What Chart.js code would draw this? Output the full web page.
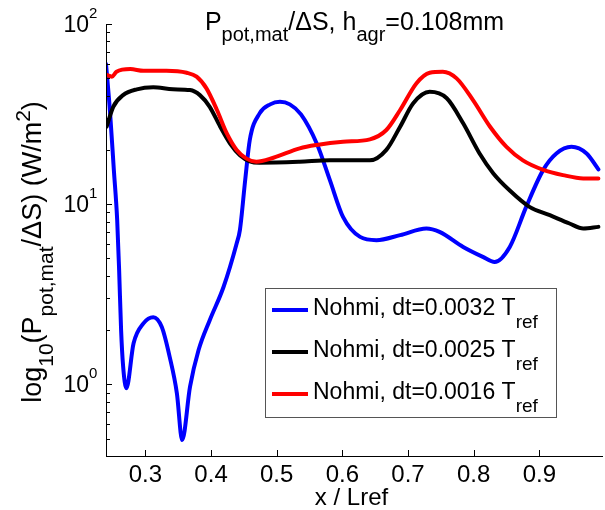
<!DOCTYPE html>
<html>
<head>
<meta charset="utf-8">
<script src="https://cdn.jsdelivr.net/npm/chart.js@4/dist/chart.umd.min.js"></script>
<style>
html,body{margin:0;padding:0;background:#ffffff;}
#wrap{width:605px;height:510px;position:relative;}
</style>
</head>
<body>
<div id="wrap"><canvas id="c" width="605" height="510"></canvas></div>
<script>
// ---- data ----
const blueX  = [0.240,0.246,0.252,0.257,0.260,0.263,0.266,0.271,0.282,0.297,0.312,0.325,0.337,0.348,0.356,0.368,0.381,0.398,0.419,0.439,0.444,0.452,0.459,0.474,0.490,0.505,0.520,0.537,0.561,0.581,0.601,0.627,0.652,0.688,0.728,0.748,0.784,0.814,0.832,0.855,0.880,0.906,0.926,0.949,0.972,0.990];
const blueY  = [60,33,15.4,8.2,4.3,2.0,1.27,0.95,1.69,2.18,2.36,2.08,1.42,0.89,0.49,0.97,1.55,2.27,3.47,6.05,7.2,13.6,22.7,31.9,35.8,37.0,35.8,31.5,21.7,13.6,8.5,6.58,6.31,6.73,7.33,7.02,5.79,5.1,4.78,5.79,9.66,15.5,19.1,20.8,19.1,15.6];

const blackX = [0.241,0.251,0.266,0.287,0.312,0.342,0.368,0.383,0.398,0.414,0.429,0.444,0.459,0.474,0.535,0.581,0.642,0.667,0.688,0.708,0.733,0.759,0.784,0.809,0.830,0.855,0.885,0.916,0.946,0.967,0.990];
const blackY = [26.9,34.7,40.3,43.4,44.5,43.4,43.0,40.3,34.7,26.9,21.7,18.7,17.3,17.0,17.2,17.5,17.5,20.0,26.9,36.3,42.0,38.7,28.1,19.1,14.8,11.9,9.66,8.69,7.81,7.33,7.48];

const redX   = [0.241,0.249,0.256,0.277,0.297,0.332,0.363,0.378,0.393,0.409,0.424,0.439,0.454,0.469,0.495,0.535,0.561,0.601,0.642,0.667,0.688,0.713,0.733,0.753,0.774,0.799,0.825,0.850,0.875,0.906,0.936,0.967,0.990];
const redY   = [52.1,51.0,54.3,56.2,55.0,55.0,53.6,51.0,43.9,33.3,24.7,20.0,17.9,17.2,18.1,20.4,21.3,22.2,22.9,25.8,33.3,46.9,53.6,54.3,49.9,37.8,26.9,20.8,17.5,15.5,14.5,13.9,13.9];

const seriesNames = ['Nohmi, dt=0.0032 T', 'Nohmi, dt=0.0025 T', 'Nohmi, dt=0.0016 T'];
const seriesSub   = 'ref';
const seriesColors = ['#0000ff', '#000000', '#ff0000'];

const xTicks = [0.3,0.4,0.5,0.6,0.7,0.8,0.9];
const xTickLabels = ['0.3','0.4','0.5','0.6','0.7','0.8','0.9'];
const yTicks = [1,10,100];
const yTickExp = ['0','1','2'];
const xRange = [0.24, 0.997];
const yRange = [0.4, 100];

// ---- text helpers ----
const FONT = '"Liberation Sans", Arial, Helvetica, sans-serif';
function fnt(sz){ return sz + 'px ' + FONT; }
function richWidth(ctx, segs, main, small){
  let w = 0;
  for (const s of segs){ ctx.font = fnt(s[1] ? small : main); w += ctx.measureText(s[0]).width; }
  return w;
}
function drawRich(ctx, segs, x, y, align, main, small, subDy, supDy){
  const w = richWidth(ctx, segs, main, small);
  let cx = align === 'center' ? x - w/2 : (align === 'right' ? x - w : x);
  ctx.textAlign = 'left';
  ctx.textBaseline = 'alphabetic';
  for (const s of segs){
    ctx.font = fnt(s[1] ? small : main);
    const dy = s[1] === -1 ? subDy : (s[1] === 1 ? supDy : 0);
    ctx.fillText(s[0], cx, y + dy);
    cx += ctx.measureText(s[0]).width;
  }
}
function seg(t, m){ return [t, m || 0]; }

const toPts = (xs, ys) => xs.map((v, i) => ({x: v, y: ys[i]}));

const matlabPlugin = {
  id: 'matlabDecor',
  afterDatasetsDraw(chart){
    const ctx = chart.ctx, a = chart.chartArea, xs = chart.scales.x, ys = chart.scales.y;
    ctx.save();
    ctx.strokeStyle = '#000'; ctx.lineWidth = 1; ctx.fillStyle = '#000';
    // axis lines
    ctx.beginPath();
    ctx.moveTo(a.left + 0.5, a.top);
    ctx.lineTo(a.left + 0.5, a.bottom + 0.5);
    ctx.lineTo(a.right, a.bottom + 0.5);
    ctx.stroke();
    // x ticks (inward)
    ctx.beginPath();
    xTicks.forEach(v => {
      const px = Math.round(xs.getPixelForValue(v)) + 0.5;
      ctx.moveTo(px, a.bottom); ctx.lineTo(px, a.bottom - 6);
    });
    // y major ticks
    yTicks.forEach(v => {
      const py = Math.round(ys.getPixelForValue(v)) + 0.5;
      ctx.moveTo(a.left, py); ctx.lineTo(a.left + 6, py);
    });
    // y minor ticks
    for (let d = -1; d <= 1; d++){
      for (let k = 2; k <= 9; k++){
        const v = k * Math.pow(10, d);
        if (v < yRange[0] || v > yRange[1]) continue;
        const py = Math.round(ys.getPixelForValue(v)) + 0.5;
        ctx.moveTo(a.left, py); ctx.lineTo(a.left + 4, py);
      }
    }
    ctx.stroke();

    // x tick labels
    ctx.font = fnt(24); ctx.textAlign = 'center'; ctx.textBaseline = 'alphabetic';
    xTicks.forEach((v, i) => {
      ctx.fillText(xTickLabels[i], xs.getPixelForValue(v), a.bottom + 26);
    });
    // y tick labels 10^k
    yTicks.forEach((v, i) => {
      const py = ys.getPixelForValue(v);
      ctx.font = fnt(23); ctx.textAlign = 'right';
      ctx.fillText('10', a.left - 17, py + 8);
      ctx.font = fnt(15); ctx.textAlign = 'left';
      ctx.fillText(yTickExp[i], a.left - 17, py - 6);
    });

    // x label
    ctx.font = fnt(24); ctx.textAlign = 'center';
    ctx.fillText('x / Lref', (a.left + a.right) / 2 - 3, a.bottom + 49);

    // title
    drawRich(ctx, [seg('P'), seg('pot,mat', -1), seg('/\u0394S, h'), seg('agr', -1), seg('=0.108mm')],
             (a.left + a.right) / 2, 30, 'center', 25, 20, 11, -10);

    // y label (rotated)
    ctx.save();
    ctx.translate(41, 252);
    ctx.rotate(-Math.PI / 2);
    drawRich(ctx, [seg('log'), seg('10', -1), seg('(P'), seg('pot,mat', -1), seg('/\u0394S) (W/m'), seg('2', 1), seg(')')],
             0, 0, 'center', 27, 21, 12, -11);
    ctx.restore();

    // legend
    const lx = 265, ly = 288, lw = 291, lh = 129;
    ctx.fillStyle = '#fff';
    ctx.fillRect(lx, ly, lw, lh);
    ctx.strokeStyle = '#555'; ctx.lineWidth = 1;
    ctx.strokeRect(lx + 0.5, ly + 0.5, lw, lh);
    seriesNames.forEach((name, i) => {
      const ry = ly + 22 + i * 42;
      ctx.strokeStyle = seriesColors[i]; ctx.lineWidth = 4;
      ctx.beginPath(); ctx.moveTo(lx + 7, ry); ctx.lineTo(lx + 43, ry); ctx.stroke();
      ctx.fillStyle = '#000';
      drawRich(ctx, [seg(name), seg(seriesSub, -1)], lx + 48, ry + 5, 'left', 23, 19, 13, 0);
    });
    ctx.restore();
  }
};

new Chart(document.getElementById('c'), {
  type: 'line',
  data: {
    datasets: [
      {label: seriesNames[0], data: toPts(blueX, blueY), borderColor: seriesColors[0], order: 3},
      {label: seriesNames[1], data: toPts(blackX, blackY), borderColor: seriesColors[1], order: 2},
      {label: seriesNames[2], data: toPts(redX, redY), borderColor: seriesColors[2], order: 1}
    ]
  },
  options: {
    responsive: false,
    devicePixelRatio: 1,
    animation: false,
    parsing: true,
    elements: {
      line: {borderWidth: 4, cubicInterpolationMode: 'monotone', borderJoinStyle: 'round', borderCapStyle: 'round', fill: false},
      point: {radius: 0, hoverRadius: 0}
    },
    layout: {padding: {left: 106, right: 2, top: 24, bottom: 54}},
    plugins: {legend: {display: false}, tooltip: {enabled: false}, title: {display: false}},
    events: [],
    scales: {
      x: {type: 'linear', min: xRange[0], max: xRange[1], display: false},
      y: {type: 'logarithmic', min: yRange[0], max: yRange[1], display: false}
    }
  },
  plugins: [matlabPlugin]
});
</script>
</body>
</html>
